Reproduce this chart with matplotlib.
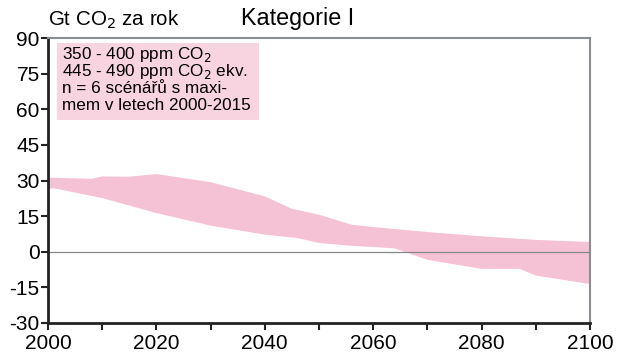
import numpy as np
import matplotlib.pyplot as plt
from matplotlib.patches import Rectangle

plt.rcParams['font.family'] = ['Liberation Sans', 'DejaVu Sans']
plt.rcParams['axes.unicode_minus'] = False

# emission range of the category (Gt CO2 per year)
upper_years = [2000, 2008, 2010, 2015, 2020, 2030, 2040, 2045, 2050, 2056, 2060, 2070, 2080, 2090, 2100]
upper_vals = [31.2, 30.7, 31.7, 31.6, 32.7, 29.3, 23.3, 18.1, 15.6, 11.4, 10.4, 8.3, 6.5, 5.0, 4.1]

lower_years = [2000, 2001, 2010, 2020, 2030, 2040, 2046, 2050, 2056, 2060, 2064, 2070, 2080, 2087, 2090, 2100]
lower_vals = [26.4, 26.8, 22.6, 16.3, 11.0, 7.2, 5.8, 3.7, 2.5, 2.0, 1.4, -3.4, -7.2, -7.2, -10.0, -13.6]

x_ticks = [2000, 2020, 2040, 2060, 2080, 2100]
y_ticks = [-30, -15, 0, 15, 30, 45, 60, 75, 90]

box_lines = ["350 - 400 ppm CO$_2$",
             "445 - 490 ppm CO$_2$ ekv.",
             "n = 6 scénářů s maxi-",
             "mem v letech 2000-2015"]

pink = '#f5c1d4'
dark = '#222222'

W, H = 619, 357
fig = plt.figure(figsize=(W / 100, H / 100), dpi=100)
ax = fig.add_axes([48 / W, 1 - 323 / H, (590 - 48) / W, (323 - 38) / H])

# band: upper edge forward, lower edge back
xs = np.array(upper_years + lower_years[::-1], dtype=float)
ys = np.array(upper_vals + lower_vals[::-1], dtype=float)
ax.fill(xs, ys, color=pink, lw=0)

ax.axhline(0, color='#888888', lw=0.9, zorder=1)

ax.set_xlim(2000, 2100)
ax.set_ylim(-30, 90)
ax.set_xticks(x_ticks)
ax.set_xticks(range(2000, 2101, 10), minor=True)
ax.set_yticks(y_ticks)
ax.tick_params(axis='both', which='both', labelsize=15, direction='out',
               width=1.5, length=5, color=dark)
ax.tick_params(axis='x', pad=3)
ax.tick_params(axis='y', pad=1)

for side in ['left', 'bottom']:
    ax.spines[side].set_color(dark)
    ax.spines[side].set_linewidth(2)
for side in ['top', 'right']:
    ax.spines[side].set_color('#8a8d91')
    ax.spines[side].set_linewidth(1.5)

# note box, one line at a time so the subscripts don't push the spacing around
fig.patches.append(Rectangle((57 / W, 1 - 120 / H), 202 / W, 77 / H,
                             transform=fig.transFigure, facecolor='#f8d3e0',
                             edgecolor='none', zorder=2))
for i, line in enumerate(box_lines):
    fig.text(62 / W, 1 - (59 + 17 * i) / H, line, fontsize=12.3,
             va='baseline', ha='left', zorder=3)

fig.text(48 / W, 1 - 20 / H, 'Gt CO$_2$ za rok', fontsize=14.8, va='center', ha='left')
fig.text(298 / W, 1 - 18 / H, 'Kategorie I', fontsize=16.8, va='center', ha='center')

fig.savefig('out.png', dpi=100)
